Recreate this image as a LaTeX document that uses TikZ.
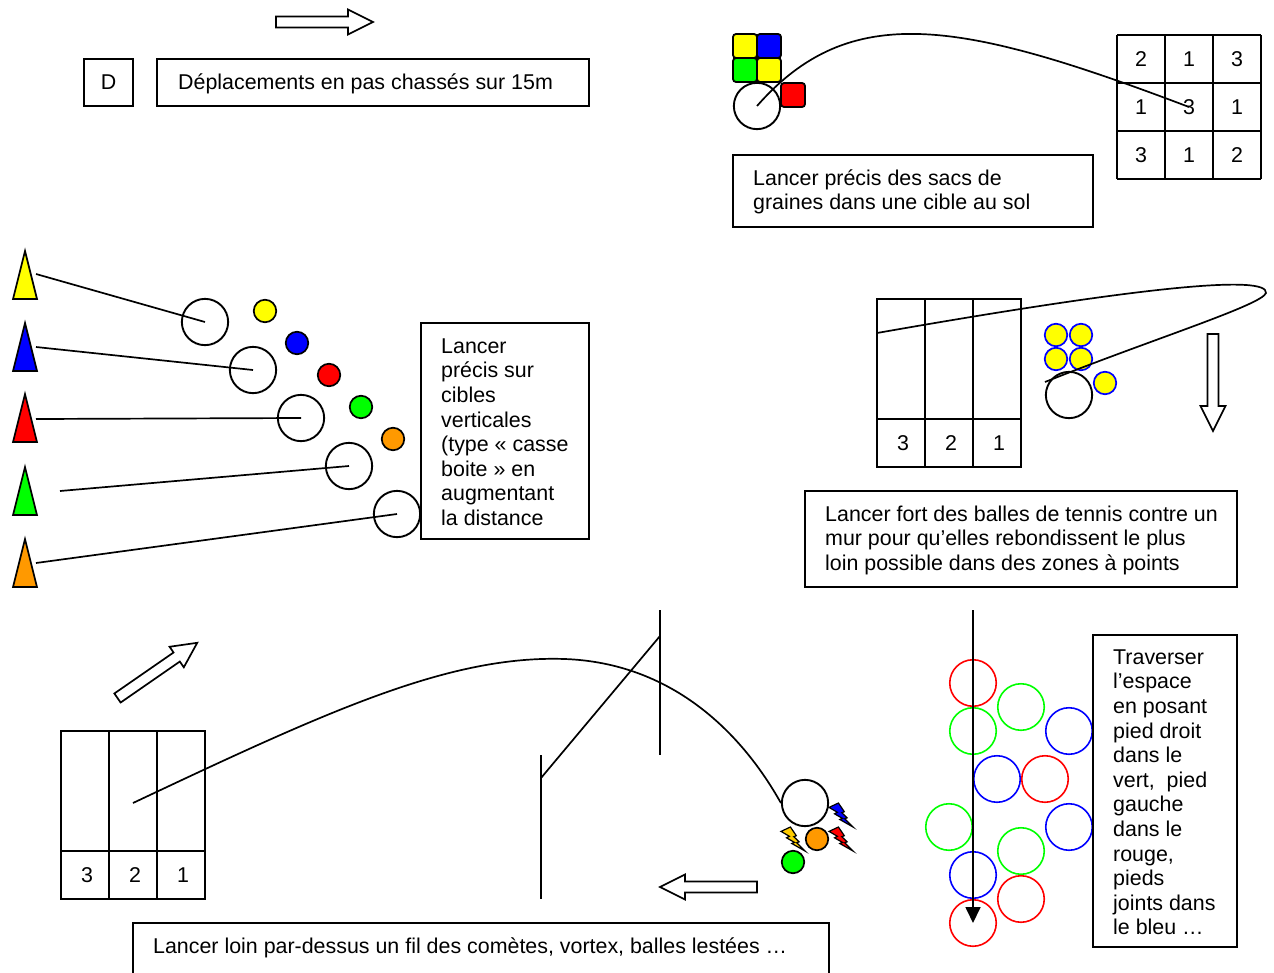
\documentclass[tikz,border=0pt]{standalone}
\usepackage{fontspec}
\setmainfont{Liberation Sans}
\usetikzlibrary{arrows.meta}
\definecolor{cyel}{RGB}{255,255,0}
\definecolor{cblu}{RGB}{0,0,255}
\definecolor{cred}{RGB}{255,0,0}
\definecolor{cgrn}{RGB}{0,255,0}
\definecolor{corg}{RGB}{255,153,0}
\definecolor{cgold}{RGB}{255,204,0}
% hollow block arrow, tail at #1, pointing at angle #2
\newcommand\blockarrow[2]{%
  \draw[line width=1.7pt, fill=white, shift={#1}, rotate=#2]
    (0,-5.5) -- (72,-5.5) -- (72,-12.5) -- (97,0) -- (72,12.5) -- (72,5.5) -- (0,5.5) -- cycle;}
% lightning bolt in a 24x24 cell whose top left corner is #1
\newcommand\boltshape[2]{%
  \filldraw[fill=#2, line width=1.2pt, line join=miter, shift={#1}]
    (9.4,0) -- (0,4.4) -- (8.4,9.3) -- (5.5,10.8) -- (13.5,15.4) -- (10.8,16.5) -- (24,24)
    -- (15.7,15.8) -- (18.1,14.8) -- (12.8,9.7) -- (15.3,8.7) -- cycle;}
\begin{document}
\begin{tikzpicture}[x=1pt,y=-1pt,
  every node/.style={font=\fontsize{21.4}{24.6}\selectfont, inner sep=0pt},
  box/.style={draw, line width=2pt},
  ball/.style={circle, draw, line width=1.7pt, minimum size=22.5pt, inner sep=0pt},
  ring/.style={circle, draw, line width=1.9pt, minimum size=46.3pt, inner sep=0pt},
  hoop/.style={circle, draw=#1, line width=1.6pt, minimum size=46.5pt, inner sep=0pt},
  wire/.style={line width=1.7pt},
  txt/.style={anchor=north west, align=left},
  num/.style={anchor=center},
  bag/.style={draw, line width=1.8pt, rounded corners=3pt},
]
\useasboundingbox (0,0) rectangle (1274,972);

% ---------- shuffle steps ----------
\blockarrow{(276,22)}{0}
\draw[box] (84,59) rectangle (133,106);
\node[num] (dlab) at (108.5,82.5) {D};
\draw[box] (157,59) rectangle (589,106);
\node[txt] (dtxt) at (178,89-17) {\rule{0pt}{17pt}Déplacements en pas chassés sur 15m};

% ---------- bean bags on a floor target ----------
\draw[bag, fill=cyel] (733,34) rectangle (757,58);
\draw[bag, fill=cblu] (757,34) rectangle (781,58);
\draw[bag, fill=cgrn] (733,58) rectangle (757,82);
\draw[bag, fill=cyel] (757,58) rectangle (781,82);
\draw[bag, fill=cred] (781,83) rectangle (805,107);
\node[ring] (sb) at (757,106) {};
\foreach \x in {1117,1165,1213,1261} \draw[box] (\x,35) -- (\x,179);
\foreach \y in {35,83,131,179} \draw[box] (1117,\y) -- (1261,\y);
\node[num] (g11) at (1141,59) {2};
\node[num] (g12) at (1189,59) {1};
\node[num] (g13) at (1237,59) {3};
\node[num] (g21) at (1141,107) {1};
\node[num] (g22) at (1189,107) {3};
\node[num] (g23) at (1237,107) {1};
\node[num] (g31) at (1141,155) {3};
\node[num] (g32) at (1189,155) {1};
\node[num] (g33) at (1237,155) {2};
\draw[wire] (sb.center) .. controls (850,0) and (960,20) .. (g22.center);
\draw[box] (733,155) rectangle (1093,227);
\node[txt] (stxt) at (753,185-17) {\rule{0pt}{17pt}Lancer précis des sacs de\\graines dans une cible au sol};

% ---------- vertical targets (cones) ----------
\filldraw[fill=cyel, line width=1.7pt] (25,251) -- (37,299) -- (13,299) -- cycle;
\filldraw[fill=cblu, line width=1.7pt] (25,323) -- (37,371) -- (13,371) -- cycle;
\filldraw[fill=cred, line width=1.7pt] (25,394) -- (37,442) -- (13,442) -- cycle;
\filldraw[fill=cgrn, line width=1.7pt] (25,467) -- (37,515) -- (13,515) -- cycle;
\filldraw[fill=corg, line width=1.7pt] (25,539) -- (37,587) -- (13,587) -- cycle;
\coordinate (k1) at (36,274);
\coordinate (k2) at (36,347);
\coordinate (k3) at (36,419);
\coordinate (k4) at (60,491);
\coordinate (k5) at (36,563);
\node[ring] (r1) at (205,322) {};
\node[ring] (r2) at (253,370) {};
\node[ring] (r3) at (301,418) {};
\node[ring] (r4) at (349,466) {};
\node[ring] (r5) at (397,514) {};
\node[ball, fill=cyel] (b1) at (265,311) {};
\node[ball, fill=cblu] (b2) at (297,343) {};
\node[ball, fill=cred] (b3) at (329,375) {};
\node[ball, fill=cgrn] (b4) at (361,407) {};
\node[ball, fill=corg] (b5) at (393,439) {};
\draw[wire] (k1) -- (r1.center);
\draw[wire] (k2) -- (r2.center);
\draw[wire] (k3) -- (r3.center);
\draw[wire] (k4) -- (r4.center);
\draw[wire] (k5) -- (r5.center);
\draw[box] (421,323) rectangle (589,539);
\node[txt] (vtxt) at (441,353-17) {\rule{0pt}{17pt}Lancer\\précis sur\\cibles\\verticales\\(type « casse\\boite » en\\augmentant\\la distance};

% ---------- tennis balls against a wall ----------
\draw[box] (877,299) rectangle (1021,467);
\draw[box] (925,299) -- (925,467);
\draw[box] (973,299) -- (973,467);
\draw[box] (877,419) -- (1021,419);
\node[num] (t3) at (903,443) {3};
\node[num] (t2) at (951,443) {2};
\node[num] (t1) at (999,443) {1};
\node[ball, draw=cblu, fill=cyel] (y1) at (1056,335) {};
\node[ball, draw=cblu, fill=cyel] (y2) at (1081,335) {};
\node[ball, draw=cblu, fill=cyel] (y3) at (1056,359) {};
\node[ball, draw=cblu, fill=cyel] (y4) at (1081,359) {};
\node[ball, draw=cblu, fill=cyel] (y5) at (1105,383) {};
\node[ring] (tc) at (1069,395) {};
\coordinate (ts) at (1045,382);
\coordinate (tt) at (1266,293);
\coordinate (te) at (877,333);
\draw[wire] (ts) .. controls (1150,340) and (1262,305) .. (tt)
               .. controls (1268,275) and (1150,285) .. (te);
\blockarrow{(1213,334)}{-90}
\draw[box] (805,491) rectangle (1237,587);
\node[txt] (wtxt) at (825,521-17) {\rule{0pt}{17pt}Lancer fort des balles de tennis contre un\\mur pour qu’elles rebondissent le plus\\loin possible dans des zones à points};

% ---------- long throw over a wire ----------
\blockarrow{(117.5,698)}{34.7}
\draw[box] (61,731) rectangle (205,899);
\draw[box] (109,731) -- (109,899);
\draw[box] (157,731) -- (157,899);
\draw[box] (61,851) -- (205,851);
\node[num] (l3) at (87,875) {3};
\node[num] (l2) at (135,875) {2};
\node[num] (l1) at (183,875) {1};
\draw[wire] (660,610) -- (660,755);
\draw[wire] (541,755) -- (541,899);
\draw[wire] (541,778) -- (660,636);
\node[ring] (cm) at (805,803) {};
\node[ball, fill=corg] (ob) at (817,839) {};
\node[ball, fill=cgrn] (gb) at (793,862) {};
\boltshape{(829,803)}{cblu}
\boltshape{(781,827)}{cgold}
\boltshape{(829,827)}{cred}
\coordinate (ls) at (133,803);
\draw[wire] (ls) .. controls (330,710) and (450,655) .. (565,659)
                 .. controls (670,663) and (740,730) .. (cm.180);
\blockarrow{(757,887)}{180}
\draw[box] (133,923) rectangle (829,980);
\node[txt] (ftxt) at (153,953-17) {\rule{0pt}{17pt}Lancer loin par-dessus un fil des comètes, vortex, balles lestées …};

% ---------- coloured hoops ----------
\node[hoop=cred] (h1) at (973,683) {};
\node[hoop=cgrn] (h2) at (1021,707) {};
\node[hoop=cgrn] (h3) at (973,731) {};
\node[hoop=cblu] (h4) at (1069,731) {};
\node[hoop=cblu] (h5) at (997,779) {};
\node[hoop=cred] (h6) at (1045,779) {};
\node[hoop=cgrn] (h7) at (949,827) {};
\node[hoop=cblu] (h8) at (1069,827) {};
\node[hoop=cgrn] (h9) at (1021,851) {};
\node[hoop=cblu] (h10) at (973,875) {};
\node[hoop=cred] (h11) at (1021,899) {};
\node[hoop=cred] (h12) at (973,923) {};
\coordinate (hs) at (973,610);
\coordinate (he) at (973,923);
\draw[wire, -{Triangle[length=16pt,width=15pt]}] (hs) -- (he);
\draw[box] (1093,635) rectangle (1237,947);
\node[txt] (htxt) at (1113,664-17) {\rule{0pt}{17pt}Traverser\\l’espace\\en posant\\pied droit\\dans le\\vert,~~pied\\gauche\\dans le\\rouge,\\pieds\\joints dans\\le bleu …};
\end{tikzpicture}
\end{document}
